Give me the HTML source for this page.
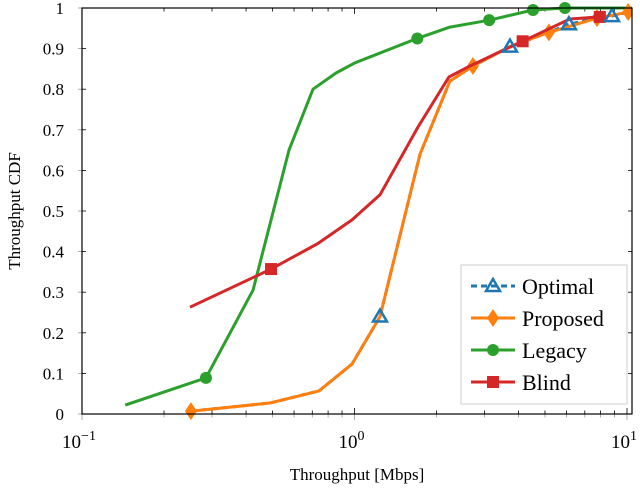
<!DOCTYPE html>
<html><head><meta charset="utf-8"><style>
body{margin:0;background:#fff}
svg text{font-family:"Liberation Serif",serif;fill:#000}
</style></head><body>
<svg id="c" width="640" height="487" viewBox="0 0 640 487" xmlns="http://www.w3.org/2000/svg"></svg>
<script>
const yTicks=[0,0.1,0.2,0.3,0.4,0.5,0.6,0.7,0.8,0.9,1];
const yTickLabels=["0","0.1","0.2","0.3","0.4","0.5","0.6","0.7","0.8","0.9","1"];
const legacyX=[0.144,0.285,0.424,0.575,0.704,0.855,1.004,1.70,2.24,3.12,4.52,5.92,12];
const legacyY=[0.022,0.089,0.305,0.65,0.80,0.84,0.865,0.925,0.953,0.97,0.995,1.0,1.0];
const legacyMarks=[1,7,9,10,11];
const propX=[0.251,0.49,0.741,0.979,1.24,1.74,2.24,2.72,3.72,5.17,7.76,10.1];
const propY=[0.007,0.027,0.057,0.123,0.24,0.64,0.82,0.857,0.905,0.94,0.975,0.99];
const propMarks=[0,7,9,10,11];
const optX=[0.251,0.49,0.741,0.979,1.24,1.74,2.24,2.72,3.72,5.17,6.12,7.76,8.81,10.1];
const optY=[0.007,0.027,0.057,0.123,0.24,0.64,0.82,0.857,0.905,0.94,0.96,0.975,0.98,0.99];
const optMarks=[4,8,10,12];
const blindX=[0.249,0.494,0.734,0.979,1.24,1.71,2.22,2.65,3.36,4.14,6.17,7.95];
const blindY=[0.263,0.357,0.42,0.478,0.54,0.707,0.83,0.857,0.89,0.918,0.973,0.978];
const blindMarks=[1,9,11];

const L=82,R=632,T=8,B=414,D=272.5;
const sx=v=>L+(Math.log10(v)+1)*D;
const sy=v=>B-(B-T)*v;
const svg=document.getElementById('c');
const NS='http://www.w3.org/2000/svg';
function el(t,a,p){const e=document.createElementNS(NS,t);for(const k in a)e.setAttribute(k,a[k]);(p||svg).appendChild(e);return e;}
const clip=el('clipPath',{id:'pc'});el('rect',{x:L,y:T-10,width:R-L,height:B-T+20},clip);

const ax=el('g',{});


yTicks.forEach((v,i)=>{
 el('line',{x1:L,x2:L+4,y1:sy(v),y2:sy(v),stroke:'#000','stroke-width':0.8},ax);
 el('line',{x1:L,x2:L-4,y1:sy(v),y2:sy(v),stroke:'#999','stroke-width':0.8},ax);
 el('line',{x1:R,x2:R-4,y1:sy(v),y2:sy(v),stroke:'#000','stroke-width':0.8},ax);
 const t=el('text',{x:L-18,y:sy(v)+6,'text-anchor':'end','font-size':17},ax);t.textContent=yTickLabels[i];
 
 
});
for(let e=-1;e<=1;e++){
 for(let m=1;m<=9;m++){
  const v=m*Math.pow(10,e);const x=sx(v);if(x>R+0.5)break;
  const len=m===1?6:3.5;
  el('line',{x1:x,x2:x,y1:B,y2:B-len,stroke:'#000','stroke-width':0.8},ax);
  el('line',{x1:x,x2:x,y1:B,y2:B+len,stroke:'#999','stroke-width':0.8},ax);
  el('line',{x1:x,x2:x,y1:T,y2:T+len,stroke:'#000','stroke-width':0.8},ax);
 }
 const t=el('text',{x:sx(Math.pow(10,e))-3,y:B+34,'text-anchor':'middle','font-size':19},ax);
 
 
 t.textContent='10';
 const s=el('tspan',{dy:-8,'font-size':14},t);s.textContent=e===-1?'\u22121':String(e);
}
const yt=el('text',{x:20,y:(T+B)/2,'text-anchor':'middle','font-size':17,transform:`rotate(-90 20 ${(T+B)/2})`});
yt.textContent='Throughput CDF';


const xt=el('text',{x:(L+R)/2,y:480,'text-anchor':'middle','font-size':17});
xt.textContent='Throughput [Mbps]';



function marker(g,type,x,y,c){
 if(type==='circle')el('circle',{cx:x,cy:y,r:6,fill:c},g);
 else if(type==='square')el('rect',{x:x-6,y:y-6,width:12,height:12,fill:c},g);
 else if(type==='diamond')el('polygon',{points:`${x},${y-9} ${x+6},${y} ${x},${y+9} ${x-6},${y}`,fill:c},g);
 else if(type==='tri')el('polygon',{points:`${x},${y-7} ${x+7},${y+5} ${x-7},${y+5}`,fill:'none',stroke:c,'stroke-width':2.5},g);
}
function series(name,xs,ys,marks,c,type,dash,noMarks){
 const g=el('g',{'clip-path':'url(#pc)'});
 
 
 const d=xs.map((v,i)=>(i?'L':'M')+sx(v).toFixed(1)+','+sy(ys[i]).toFixed(1)).join('');
 const p=el('path',{d:d,fill:'none',stroke:c,'stroke-width':3,'stroke-linejoin':'round'},g);
 if(dash)p.setAttribute('stroke-dasharray',dash);
 if(!noMarks)(marks||xs.map((_,i)=>i)).forEach(i=>marker(g,type,sx(xs[i]),sy(ys[i]),c));
}
series('legacy',legacyX,legacyY,legacyMarks,'#2ca02c','circle');
series('optimal',optX,optY,optMarks,'#1f77b4','tri','6 4',true);
series('proposed',propX,propY,propMarks,'#ff7f0e','diamond');
series('blind',blindX,blindY,blindMarks,'#d62728','square');
(function(){const g=el('g',{});
optMarks.forEach(i=>marker(g,'tri',sx(optX[i]),sy(optY[i]),'#1f77b4'));})();

el('rect',{x:L,y:T,width:R-L,height:B-T,fill:'none',stroke:'#000','stroke-width':1.2});

const lg=el('g',{});


el('rect',{x:461,y:265,width:166,height:139,fill:'#fff',stroke:'#ccc','stroke-width':1},lg);
const items=[['Optimal','#1f77b4','tri','6 4'],['Proposed','#ff7f0e','diamond'],['Legacy','#2ca02c','circle'],['Blind','#d62728','square']];
items.forEach((it,i)=>{
 const y=286+i*32;
 const g=el('g',{},lg);
 
 
 const ln=el('line',{x1:471,x2:515,y1:y,y2:y,stroke:it[1],'stroke-width':3},g);
 if(it[3])ln.setAttribute('stroke-dasharray','6 4');
 marker(g,it[2],493,y,it[1]);
 const t=el('text',{x:522,y:y+8,'font-size':22},g);t.textContent=it[0];
});
</script>
</body></html>
